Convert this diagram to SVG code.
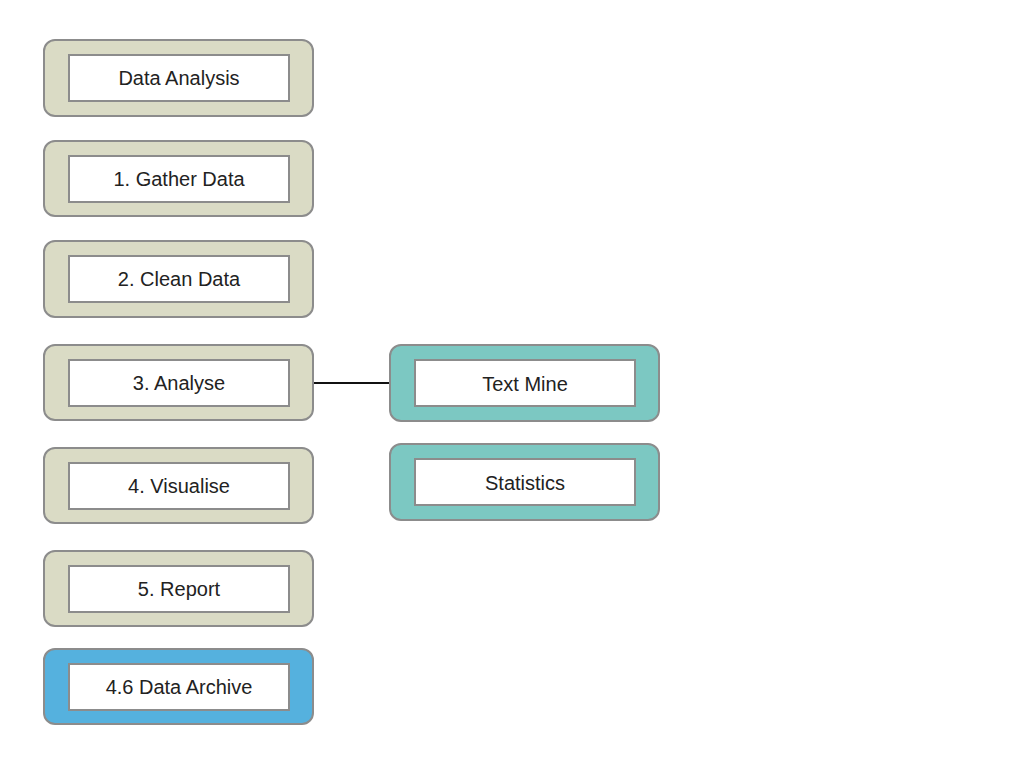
<svg xmlns="http://www.w3.org/2000/svg" width="1024" height="768" viewBox="0 0 1024 768">
<style>
.o{stroke:#8c8c8c;stroke-width:2}
.olive{fill:#dadbc5}
.teal{fill:#7cc8c2}
.blue{fill:#55b1de}
.in{fill:#fff;stroke:#8c8c8c;stroke-width:2}
text{font-family:"Liberation Sans",Arial,sans-serif;font-size:20px;fill:#222;text-anchor:middle;dominant-baseline:central}
.c{stroke:#111;stroke-width:2;fill:none}
</style>
<rect width="1024" height="768" fill="#fff"/>
<g id="connectors"><line class="c" x1="313" y1="383" x2="390" y2="383"/></g>
<g id="n0"><rect class="o olive" x="44" y="40" width="269" height="76" rx="11"/><rect class="in" x="69" y="55" width="220" height="46"/><text x="179" y="78">Data Analysis</text></g>
<g id="n1"><rect class="o olive" x="44" y="141" width="269" height="75" rx="11"/><rect class="in" x="69" y="156" width="220" height="46"/><text x="179" y="179">1. Gather Data</text></g>
<g id="n2"><rect class="o olive" x="44" y="241" width="269" height="76" rx="11"/><rect class="in" x="69" y="256" width="220" height="46"/><text x="179" y="279">2. Clean Data</text></g>
<g id="n3"><rect class="o olive" x="44" y="345" width="269" height="75" rx="11"/><rect class="in" x="69" y="360" width="220" height="46"/><text x="179" y="383">3. Analyse</text></g>
<g id="n4"><rect class="o olive" x="44" y="448" width="269" height="75" rx="11"/><rect class="in" x="69" y="463" width="220" height="46"/><text x="179" y="486">4. Visualise</text></g>
<g id="n5"><rect class="o olive" x="44" y="551" width="269" height="75" rx="11"/><rect class="in" x="69" y="566" width="220" height="46"/><text x="179" y="589">5. Report</text></g>
<g id="n6"><rect class="o blue" x="44" y="649" width="269" height="75" rx="11"/><rect class="in" x="69" y="664" width="220" height="46"/><text x="179" y="687">4.6 Data Archive</text></g>
<g id="n7"><rect class="o teal" x="390" y="345" width="269" height="76" rx="11"/><rect class="in" x="415" y="360" width="220" height="46"/><text x="525" y="384">Text Mine</text></g>
<g id="n8"><rect class="o teal" x="390" y="444" width="269" height="76" rx="11"/><rect class="in" x="415" y="459" width="220" height="46"/><text x="525" y="483">Statistics</text></g>
</svg>
